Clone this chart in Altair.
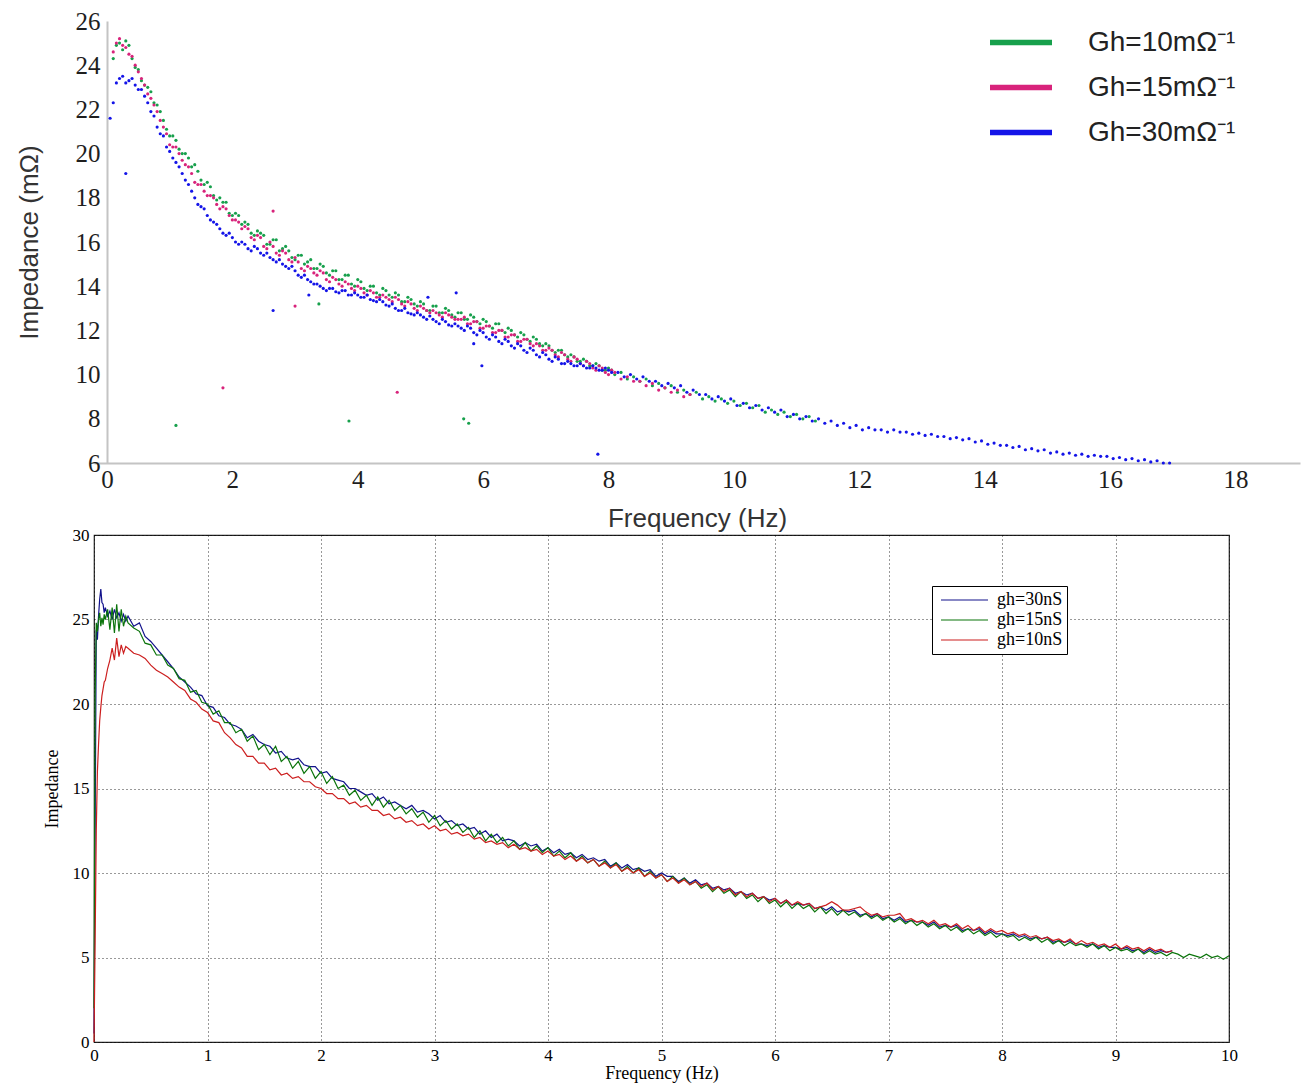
import altair as alt
import pandas as pd

# ---------------- top panel (scatter) ----------------
top_series = ["Gh=10mΩ⁻¹", "Gh=15mΩ⁻¹", "Gh=30mΩ⁻¹"]
top_colors = ["#17a04c", "#d8237b", "#1414e8"]

# Gh=10 : f = 0.1, 0.2, ... (step 0.1)
top_green_y = [24.3, 25.0, 25.1, 24.3, 23.8, 23.1, 22.8, 22.2, 21.5, 20.8,
               20.6, 20.0, 19.8, 19.5, 18.8, 18.7, 18.1, 18.0, 17.8, 17.2,
               17.2, 16.9, 16.4, 16.5, 16.3, 15.9, 16.1, 15.7, 15.6, 15.2,
               15.4, 15.1, 14.8, 15.0, 14.6, 14.7, 14.3, 14.5, 14.1, 14.3,
               13.9, 14.0, 13.7, 13.9, 13.6, 13.7, 13.3, 13.5, 13.2, 13.3,
               12.9, 13.1, 12.8, 13.0, 12.7, 12.8, 12.5, 12.7, 12.4, 12.5,
               12.2, 12.3, 12.0, 12.1, 11.8, 11.9, 11.6, 11.7, 11.4, 11.4,
               11.1, 11.1, 10.9, 10.9, 10.6, 10.7, 10.4, 10.5, 10.2, 10.3,
               10.0, 10.1, 9.8, 9.9, 9.7, 9.8, 9.5, 9.6, 9.4, 9.5,
               9.2, 9.3, 9.1, 9.2, 8.9, 9.0, 8.8, 8.9, 8.7, 8.8,
               8.6, 8.7, 8.5, 8.6, 8.3, 8.4, 8.2, 8.3, 8.1, 8.2,
               8.0, 8.1, 7.9]
# Gh=10 : f = 0.15, 0.25, ... (step 0.1)
top_green_y2 = [24.9, 24.7, 24.9, 23.9, 23.3, 23.0, 22.3, 21.9, 21.1, 20.8,
                20.2, 20.0, 19.4, 19.2, 18.6, 18.5, 17.9, 17.8, 17.3, 17.3,
                16.8, 16.8, 16.3, 16.4, 15.9, 16.1, 15.6, 15.8, 15.3, 15.4,
                15.0, 15.2, 14.8, 14.9, 14.5, 14.7, 14.3, 14.5, 14.0, 14.2,
                13.8, 14.0, 13.6, 13.8, 13.5, 13.6, 13.3, 13.4, 13.1, 13.2,
                12.9, 13.1, 12.8, 12.9, 12.6, 12.8, 12.5, 12.6, 12.3, 12.4,
                12.1, 12.3, 11.9, 12.0, 11.7, 11.8, 11.5, 11.6, 11.3, 11.3,
                11.0, 11.1, 10.8, 10.8, 10.6, 10.6, 10.4, 10.4, 10.2, 10.2]
top_green_out_x = [1.10, 3.38, 3.86, 5.69, 5.77]
top_green_out_y = [7.7, 13.2, 7.9, 8.0, 7.8]

# Gh=15 : f = 0.1, 0.2, ... (step 0.1)
top_pink_y = [24.6, 25.2, 24.8, 24.4, 23.7, 23.1, 22.5, 21.9, 21.2, 20.4,
              20.3, 19.7, 19.4, 18.7, 18.6, 18.1, 18.0, 17.5, 17.5, 17.0,
              16.9, 16.7, 16.2, 16.3, 15.8, 16.0, 15.5, 15.6, 15.2, 15.3,
              14.8, 14.9, 14.6, 14.7, 14.3, 14.4, 14.1, 14.2, 13.9, 14.0,
              13.7, 13.8, 13.5, 13.6, 13.4, 13.5, 13.2, 13.3, 13.0, 13.1,
              12.9, 12.9, 12.7, 12.8, 12.6, 12.5, 12.6, 12.3, 12.4, 12.1,
              12.2, 11.9, 12.0, 11.7, 11.8, 11.5, 11.6, 11.3, 11.3, 11.1,
              11.1, 10.8, 10.9, 10.6, 10.7, 10.4, 10.5, 10.2, 10.3, 10.0,
              10.1, 9.8, 9.9, 9.7, 9.7, 9.5, 9.6, 9.3, 9.4, 9.2,
              9.3, 9.0, 9.1]
# Gh=15 : f = 0.15, 0.25, ... (step 0.1)
top_pink_y2 = [25.0, 24.9, 24.5, 24.0, 23.4, 22.7, 22.2, 21.5, 20.9, 20.3,
               20.0, 19.5, 19.1, 18.6, 18.3, 18.1, 17.7, 17.6, 17.2, 17.0,
               16.6, 16.6, 16.1, 16.2, 15.7, 15.8, 15.4, 15.5, 15.1, 15.1,
               14.7, 14.8, 14.5, 14.6, 14.2, 14.3, 14.0, 14.1, 13.8, 13.9,
               13.6, 13.7, 13.5, 13.5, 13.3, 13.4, 13.1, 13.2, 12.9, 13.0,
               12.8, 12.8, 12.6, 12.7, 12.5, 12.5, 12.3, 12.4, 12.1, 12.2,
               11.9, 12.0, 11.7, 11.8, 11.5, 11.6, 11.4, 11.4, 11.1, 11.2,
               10.9, 11.0, 10.7, 10.8, 10.5, 10.6, 10.3, 10.4, 10.1, 10.2]
top_pink_out_x = [2.65, 3.00, 1.85, 4.63]
top_pink_out_y = [17.4, 13.1, 9.4, 9.2]

# Gh=30 : f = 0.05, 0.15, ... (step 0.1)
top_blue_y = [21.6, 23.2, 23.5, 23.3, 23.1, 22.9, 22.3, 21.7, 20.9, 20.3,
              19.8, 19.4, 18.8, 18.3, 17.7, 17.5, 17.0, 16.8, 16.4, 16.4,
              16.0, 16.0, 15.7, 15.8, 15.5, 15.5, 15.2, 15.2, 14.9, 14.9,
              14.5, 14.5, 14.2, 14.1, 13.9, 13.9, 13.75, 13.8, 13.6, 13.7,
              13.5, 13.6, 13.35, 13.4, 13.15, 13.2, 12.9, 13.0, 12.75, 12.8,
              12.6, 12.65, 12.4, 12.5, 12.25, 12.3, 12.1, 12.2, 11.9, 12.0,
              11.7, 11.8, 11.5, 11.6, 11.3, 11.4, 11.1, 11.2, 10.9, 11.0,
              10.7, 10.8, 10.5, 10.6, 10.4, 10.5, 10.3, 10.4, 10.2, 10.3,
              10.1, 10.1, 9.9, 10.0, 9.8, 9.9, 9.7, 9.7, 9.5, 9.6,
              9.4, 9.5, 9.2, 9.3, 9.1, 9.1, 8.9, 9.0, 8.8, 8.9,
              8.6, 8.7, 8.5, 8.6, 8.4, 8.5, 8.3, 8.4, 8.1, 8.2,
              8.0, 8.1, 7.9, 8.0, 7.8, 7.9, 7.7, 7.8, 7.6, 7.7,
              7.5, 7.6, 7.5, 7.5, 7.4, 7.5, 7.4, 7.4, 7.3, 7.35,
              7.25, 7.3, 7.2, 7.2, 7.1, 7.15, 7.05, 7.1, 6.95, 7.0,
              6.85, 6.9, 6.8, 6.8, 6.7, 6.75, 6.6, 6.65, 6.55, 6.6,
              6.45, 6.5, 6.4, 6.45, 6.35, 6.4, 6.3, 6.35, 6.3, 6.3,
              6.2, 6.25, 6.15, 6.2, 6.1, 6.15, 6.05, 6.1, 6.0, 6.0]
# Gh=30 : f = 0.1, 0.2, ... (step 0.1)
top_blue_y2 = [22.3, 23.4, 23.2, 23.4, 22.9, 22.6, 21.9, 21.2, 20.8, 20.1,
               19.6, 19.1, 18.6, 18.0, 17.6, 17.2, 16.9, 16.6, 16.3, 16.2,
               15.9, 15.9, 15.6, 15.7, 15.4, 15.3, 15.1, 15.0, 14.8, 14.7,
               14.4, 14.3, 14.1, 14.0, 13.8, 13.9, 13.7, 13.8, 13.6, 13.6,
               13.5, 13.4, 13.3, 13.3, 13.1, 13.0, 12.9, 12.8, 12.7, 12.7,
               12.5, 12.5, 12.3, 12.4, 12.2, 12.2, 12.0, 12.1, 11.8, 11.9,
               11.6, 11.7, 11.4, 11.5, 11.2, 11.3, 11.0, 11.1, 10.8, 10.9,
               10.6, 10.7, 10.5, 10.5, 10.4, 10.4, 10.3, 10.3, 10.2, 10.2]
top_blue_out_x = [0.30, 2.65, 3.22, 5.12, 5.57, 5.98, 5.85, 7.83]
top_blue_out_y = [19.1, 12.9, 13.6, 13.5, 13.7, 10.4, 11.4, 6.4]

top_x_ticks = [0, 2, 4, 6, 8, 10, 12, 14, 16, 18]
top_y_ticks = [6, 8, 10, 12, 14, 16, 18, 20, 22, 24, 26]

# ---------------- bottom panel (lines) ----------------
bot_series = ["gh=30nS", "gh=15nS", "gh=10nS"]
bot_colors = ["#12128c", "#0b740b", "#cc1f1f"]

# first 20 samples at these frequencies, then every 0.05 Hz from 0.30
bot_early_x = [0.0, 0.01, 0.02, 0.03, 0.04, 0.05, 0.06, 0.07, 0.08, 0.09,
               0.10, 0.12, 0.14, 0.16, 0.18, 0.20, 0.22, 0.24, 0.26, 0.28]

bot_blue_y = [0.5, 12.5, 24.4, 23.8, 25.2, 26.2, 26.8, 26.0, 25.9, 25.4,
              25.7, 25.2, 25.5, 25.0, 25.6, 25.1, 25.4, 24.9, 25.3, 24.9,
              25.2, 24.6, 24.8, 24.0, 23.7, 23.3, 22.9, 22.5, 22.1, 21.6,
              21.3, 21.0, 20.6, 20.5, 19.9, 19.8, 19.3, 19.2, 18.8, 18.7,
              18.5, 18.0, 18.2, 17.8, 17.6, 17.5, 17.1, 17.2, 16.8, 16.7,
              16.8, 16.4, 16.3, 16.3, 15.9, 16.0, 15.6, 15.5, 15.4, 15.0,
              15.0, 14.8, 14.6, 14.7, 14.3, 14.5, 14.1, 14.2, 14.0, 13.8,
              14.0, 13.6, 13.7, 13.5, 13.2, 13.4, 13.0, 13.1, 12.8, 12.9,
              12.6, 12.7, 12.3, 12.5, 12.1, 12.3, 11.9, 12.0, 11.9, 11.6,
              11.8, 11.6, 11.7, 11.3, 11.5, 11.2, 11.4, 11.1, 11.2, 10.9,
              11.1, 10.8, 10.9, 10.7, 10.8, 10.4, 10.6, 10.3, 10.5, 10.2,
              10.3, 10.1, 10.2, 9.8, 10.0, 9.8, 9.8, 9.5, 9.7, 9.4,
              9.6, 9.3, 9.4, 9.1, 9.2, 9.0, 9.1, 8.8, 8.9, 8.7,
              8.8, 8.5, 8.6, 8.4, 8.5, 8.2, 8.4, 8.1, 8.2, 8.1,
              8.2, 7.9, 8.0, 7.8, 8.0, 7.7, 7.8, 7.7, 7.8, 7.5,
              7.6, 7.4, 7.6, 7.3, 7.4, 7.2, 7.4, 7.1, 7.2, 7.1,
              7.1, 6.9, 7.1, 6.8, 6.9, 6.8, 6.9, 6.6, 6.7, 6.6,
              6.7, 6.4, 6.6, 6.4, 6.4, 6.3, 6.4, 6.2, 6.3, 6.1,
              6.2, 6.1, 6.2, 5.9, 6.0, 5.9, 6.0, 5.8, 5.8, 5.7,
              5.8, 5.6, 5.7, 5.6, 5.6, 5.5, 5.6, 5.4, 5.5, 5.3,
              5.5, 5.3, 5.4, 5.3, 5.4]

bot_green_y = [2.0, 20.5, 24.8, 24.3, 25.0, 25.4, 24.6, 25.1, 24.7, 25.3,
               25.0, 25.6, 24.4, 25.7, 24.2, 25.9, 24.3, 25.6, 24.6, 25.2,
               24.8, 24.5, 24.3, 23.6, 23.5, 22.9, 22.9, 22.3, 22.1, 21.5,
               21.4, 20.7, 20.8, 20.1, 20.0, 19.4, 19.6, 18.9, 18.9, 18.3,
               18.5, 17.8, 18.1, 17.3, 17.6, 17.0, 17.5, 16.6, 16.9, 16.2,
               16.6, 15.9, 16.3, 15.6, 16.0, 15.3, 15.7, 15.0, 15.2, 14.6,
               14.9, 14.3, 14.6, 14.0, 14.5, 13.9, 14.3, 13.7, 14.0, 13.5,
               13.8, 13.3, 13.6, 13.0, 13.4, 12.8, 13.1, 12.6, 12.9, 12.4,
               12.7, 12.1, 12.5, 11.9, 12.3, 11.8, 12.1, 11.6, 11.9, 11.4,
               11.8, 11.3, 11.6, 11.2, 11.5, 11.0, 11.3, 10.9, 11.2, 10.7,
               11.0, 10.6, 10.8, 10.4, 10.7, 10.3, 10.6, 10.1, 10.4, 10.0,
               10.3, 9.8, 10.1, 9.7, 9.9, 9.5, 9.8, 9.4, 9.7, 9.3,
               9.5, 9.1, 9.3, 8.9, 9.2, 8.8, 9.0, 8.6, 8.9, 8.5,
               8.7, 8.3, 8.6, 8.2, 8.4, 8.0, 8.3, 7.9, 8.2, 7.9,
               8.1, 7.7, 8.0, 7.6, 7.9, 7.5, 7.8, 7.5, 7.7, 7.4,
               7.6, 7.3, 7.5, 7.2, 7.4, 7.1, 7.3, 7.0, 7.2, 6.9,
               7.1, 6.8, 7.0, 6.7, 6.9, 6.6, 6.8, 6.5, 6.7, 6.4,
               6.6, 6.3, 6.5, 6.2, 6.4, 6.2, 6.3, 6.0, 6.2, 6.0,
               6.2, 5.9, 6.1, 5.8, 6.0, 5.7, 5.9, 5.7, 5.8, 5.6,
               5.8, 5.5, 5.7, 5.4, 5.6, 5.4, 5.5, 5.3, 5.5, 5.2,
               5.4, 5.2, 5.3, 5.1, 5.3, 5.2, 5.0, 5.2, 5.1, 5.0,
               5.2, 5.0, 5.1, 4.9, 5.1]

bot_red_y = [0.0, 6.0, 12.5, 16.0, 17.6, 19.0, 19.8, 20.5, 20.9, 21.3,
             21.4, 22.1, 22.6, 23.3, 22.6, 23.9, 22.8, 23.5, 23.0, 23.4,
             23.3, 23.0, 22.9, 22.7, 22.3, 22.0, 21.8, 21.6, 21.3, 21.0,
             20.8, 20.3, 20.1, 19.7, 19.5, 19.0, 18.9, 18.3, 18.0, 17.6,
             17.4, 16.9, 16.9, 16.5, 16.5, 16.1, 16.2, 15.8, 15.9, 15.6,
             15.7, 15.4, 15.4, 15.1, 15.0, 14.7, 14.7, 14.4, 14.4, 14.1,
             14.2, 13.9, 14.0, 13.7, 13.7, 13.4, 13.5, 13.2, 13.3, 13.0,
             13.1, 12.8, 12.9, 12.6, 12.8, 12.5, 12.6, 12.3, 12.4, 12.2,
             12.3, 12.0, 12.1, 11.8, 11.9, 11.7, 11.8, 11.5, 11.7, 11.4,
             11.5, 11.3, 11.4, 11.1, 11.3, 11.0, 11.1, 10.8, 11.0, 10.7,
             10.9, 10.6, 10.8, 10.4, 10.6, 10.3, 10.5, 10.1, 10.3, 10.0,
             10.2, 9.8, 10.0, 9.7, 9.9, 9.5, 9.7, 9.4, 9.6, 9.3,
             9.5, 9.2, 9.4, 9.0, 9.2, 8.9, 9.1, 8.7, 8.9, 8.6,
             8.8, 8.5, 8.6, 8.3, 8.5, 8.2, 8.4, 8.1, 8.3, 8.1,
             8.2, 7.9, 8.0, 8.1, 8.3, 8.1, 7.8, 7.8, 7.9, 8.0,
             7.7, 7.5, 7.6, 7.4, 7.5, 7.5, 7.6, 7.2, 7.3, 7.1,
             7.2, 7.0, 7.2, 6.9, 7.0, 6.8, 7.0, 6.7, 6.9, 6.6,
             6.8, 6.5, 6.7, 6.5, 6.6, 6.4, 6.5, 6.3, 6.4, 6.2,
             6.3, 6.1, 6.2, 6.0, 6.1, 5.9, 6.1, 5.8, 6.0, 5.8,
             5.9, 5.7, 5.8, 5.6, 5.8, 5.5, 5.7, 5.5, 5.6, 5.4,
             5.6, 5.4, 5.5, 5.3, 5.4]

bot_x_ticks = [0, 1, 2, 3, 4, 5, 6, 7, 8, 9, 10]
bot_y_ticks = [0, 5, 10, 15, 20, 25, 30]


# ---------------- build tables ----------------
def grid(start, step, n):
    return [round(start + step * i, 3) for i in range(n)]


top_rows = []
for name, y1, x1, y2, x2, ox, oy in [
    (top_series[0], top_green_y, 0.1, top_green_y2, 0.15, top_green_out_x, top_green_out_y),
    (top_series[1], top_pink_y, 0.1, top_pink_y2, 0.15, top_pink_out_x, top_pink_out_y),
    (top_series[2], top_blue_y, 0.05, top_blue_y2, 0.1, top_blue_out_x, top_blue_out_y),
]:
    xs = grid(x1, 0.1, len(y1)) + grid(x2, 0.1, len(y2)) + ox
    for f, z in zip(xs, list(y1) + list(y2) + oy):
        top_rows.append({"f": f, "z": z, "s": name})
top_df = pd.DataFrame(top_rows)

bot_rows = []
for name, ys in [(bot_series[0], bot_blue_y), (bot_series[1], bot_green_y),
                 (bot_series[2], bot_red_y)]:
    xs = bot_early_x + grid(0.30, 0.05, len(ys) - len(bot_early_x))
    for f, z in zip(xs, ys):
        bot_rows.append({"f": f, "z": z, "s": name})
bot_df = pd.DataFrame(bot_rows)

# ---------------- top chart ----------------
top = alt.Chart(top_df).mark_circle(size=10, opacity=1).encode(
    x=alt.X("f:Q",
            scale=alt.Scale(domain=[-0.207, 19.03], nice=False, zero=False),
            axis=alt.Axis(values=top_x_ticks, title="Frequency (Hz)",
                          labelFont="Liberation Serif", labelFontSize=25,
                          labelColor="#1e1e1e", labelPadding=4,
                          ticks=False, tickSize=0, grid=False,
                          domainColor="#c4c4c4", domainWidth=2,
                          titleFont="Liberation Sans", titleFontSize=26,
                          titleFontWeight="normal", titleColor="#333333",
                          titlePadding=13, labelFlush=False)),
    y=alt.Y("z:Q",
            scale=alt.Scale(domain=[6, 26], nice=False, zero=False),
            axis=alt.Axis(values=top_y_ticks, title="Impedance (mΩ)",
                          offset=-13, labelFont="Liberation Serif",
                          labelFontSize=25, labelColor="#1e1e1e",
                          labelPadding=7, ticks=False, tickSize=0,
                          grid=False, domainColor="#c4c4c4", domainWidth=2,
                          titleFont="Liberation Sans", titleFontSize=26,
                          titleFontWeight="normal", titleColor="#333333",
                          titlePadding=33, labelFlush=False)),
    color=alt.Color("s:N",
                    scale=alt.Scale(domain=top_series, range=top_colors),
                    legend=alt.Legend(title=None, orient="none",
                                      legendX=896, legendY=-1, padding=0,
                                      rowPadding=0,
                                      symbolType="M-1,-0.09L1,-0.09L1,0.09L-1,0.09Z",
                                      symbolSize=3844, symbolOpacity=1,
                                      symbolStrokeWidth=0, clipHeight=45,
                                      labelOffset=36, labelFont="Liberation Sans",
                                      labelFontSize=28, labelColor="#222222",
                                      labelLimit=400)),
).properties(width=1206, height=442, view=alt.ViewBackground(stroke="transparent"))

# ---------------- bottom chart ----------------
bottom = alt.Chart(bot_df).mark_line(strokeWidth=1.2).encode(
    x=alt.X("f:Q",
            scale=alt.Scale(domain=[0, 10], nice=False, zero=False),
            axis=alt.Axis(values=bot_x_ticks, title="Frequency (Hz)",
                          labelFont="Liberation Serif", labelFontSize=17,
                          labelColor="#000000", labelPadding=5,
                          ticks=False, tickSize=0, domain=False,
                          grid=True, gridColor="#000000", gridDash=[1, 3],
                          gridWidth=1, gridOpacity=0.8,
                          titleFont="Liberation Serif", titleFontSize=18,
                          titleFontWeight="normal", titleColor="#000000",
                          titlePadding=1, labelFlush=False)),
    y=alt.Y("z:Q",
            scale=alt.Scale(domain=[0, 30], nice=False, zero=False),
            axis=alt.Axis(values=bot_y_ticks, title="Impedance",
                          labelFont="Liberation Serif", labelFontSize=17,
                          labelColor="#000000", labelPadding=5,
                          ticks=False, tickSize=0, domain=False,
                          grid=True, gridColor="#000000", gridDash=[1, 3],
                          gridWidth=1, gridOpacity=0.8,
                          titleFont="Liberation Serif", titleFontSize=18,
                          titleFontWeight="normal", titleColor="#000000",
                          titlePadding=11, labelFlush=False)),
    color=alt.Color("s:N",
                    scale=alt.Scale(domain=bot_series, range=bot_colors),
                    sort=bot_series,
                    legend=alt.Legend(title=None, orient="none",
                                      legendX=838, legendY=51, padding=4,
                                      rowPadding=0,
                                      strokeColor="#000000", fillColor="#ffffff",
                                      symbolType="stroke", symbolSize=2209,
                                      symbolStrokeWidth=1.2, symbolOffset=4,
                                      clipHeight=20, labelOffset=8,
                                      labelFont="Liberation Serif",
                                      labelFontSize=18, labelColor="#000000")),
).properties(width=1135, height=507,
             view=alt.ViewBackground(stroke="#222222", strokeWidth=1.2))

chart = alt.vconcat(top, bottom, spacing=72, bounds="flush").resolve_scale(
    color="independent").resolve_legend(color="independent").properties(
    padding={"left": 7, "top": 0, "right": 0, "bottom": 0},
    background="white")

chart.save("out.html", embed_options={"renderer": "svg", "actions": False})
